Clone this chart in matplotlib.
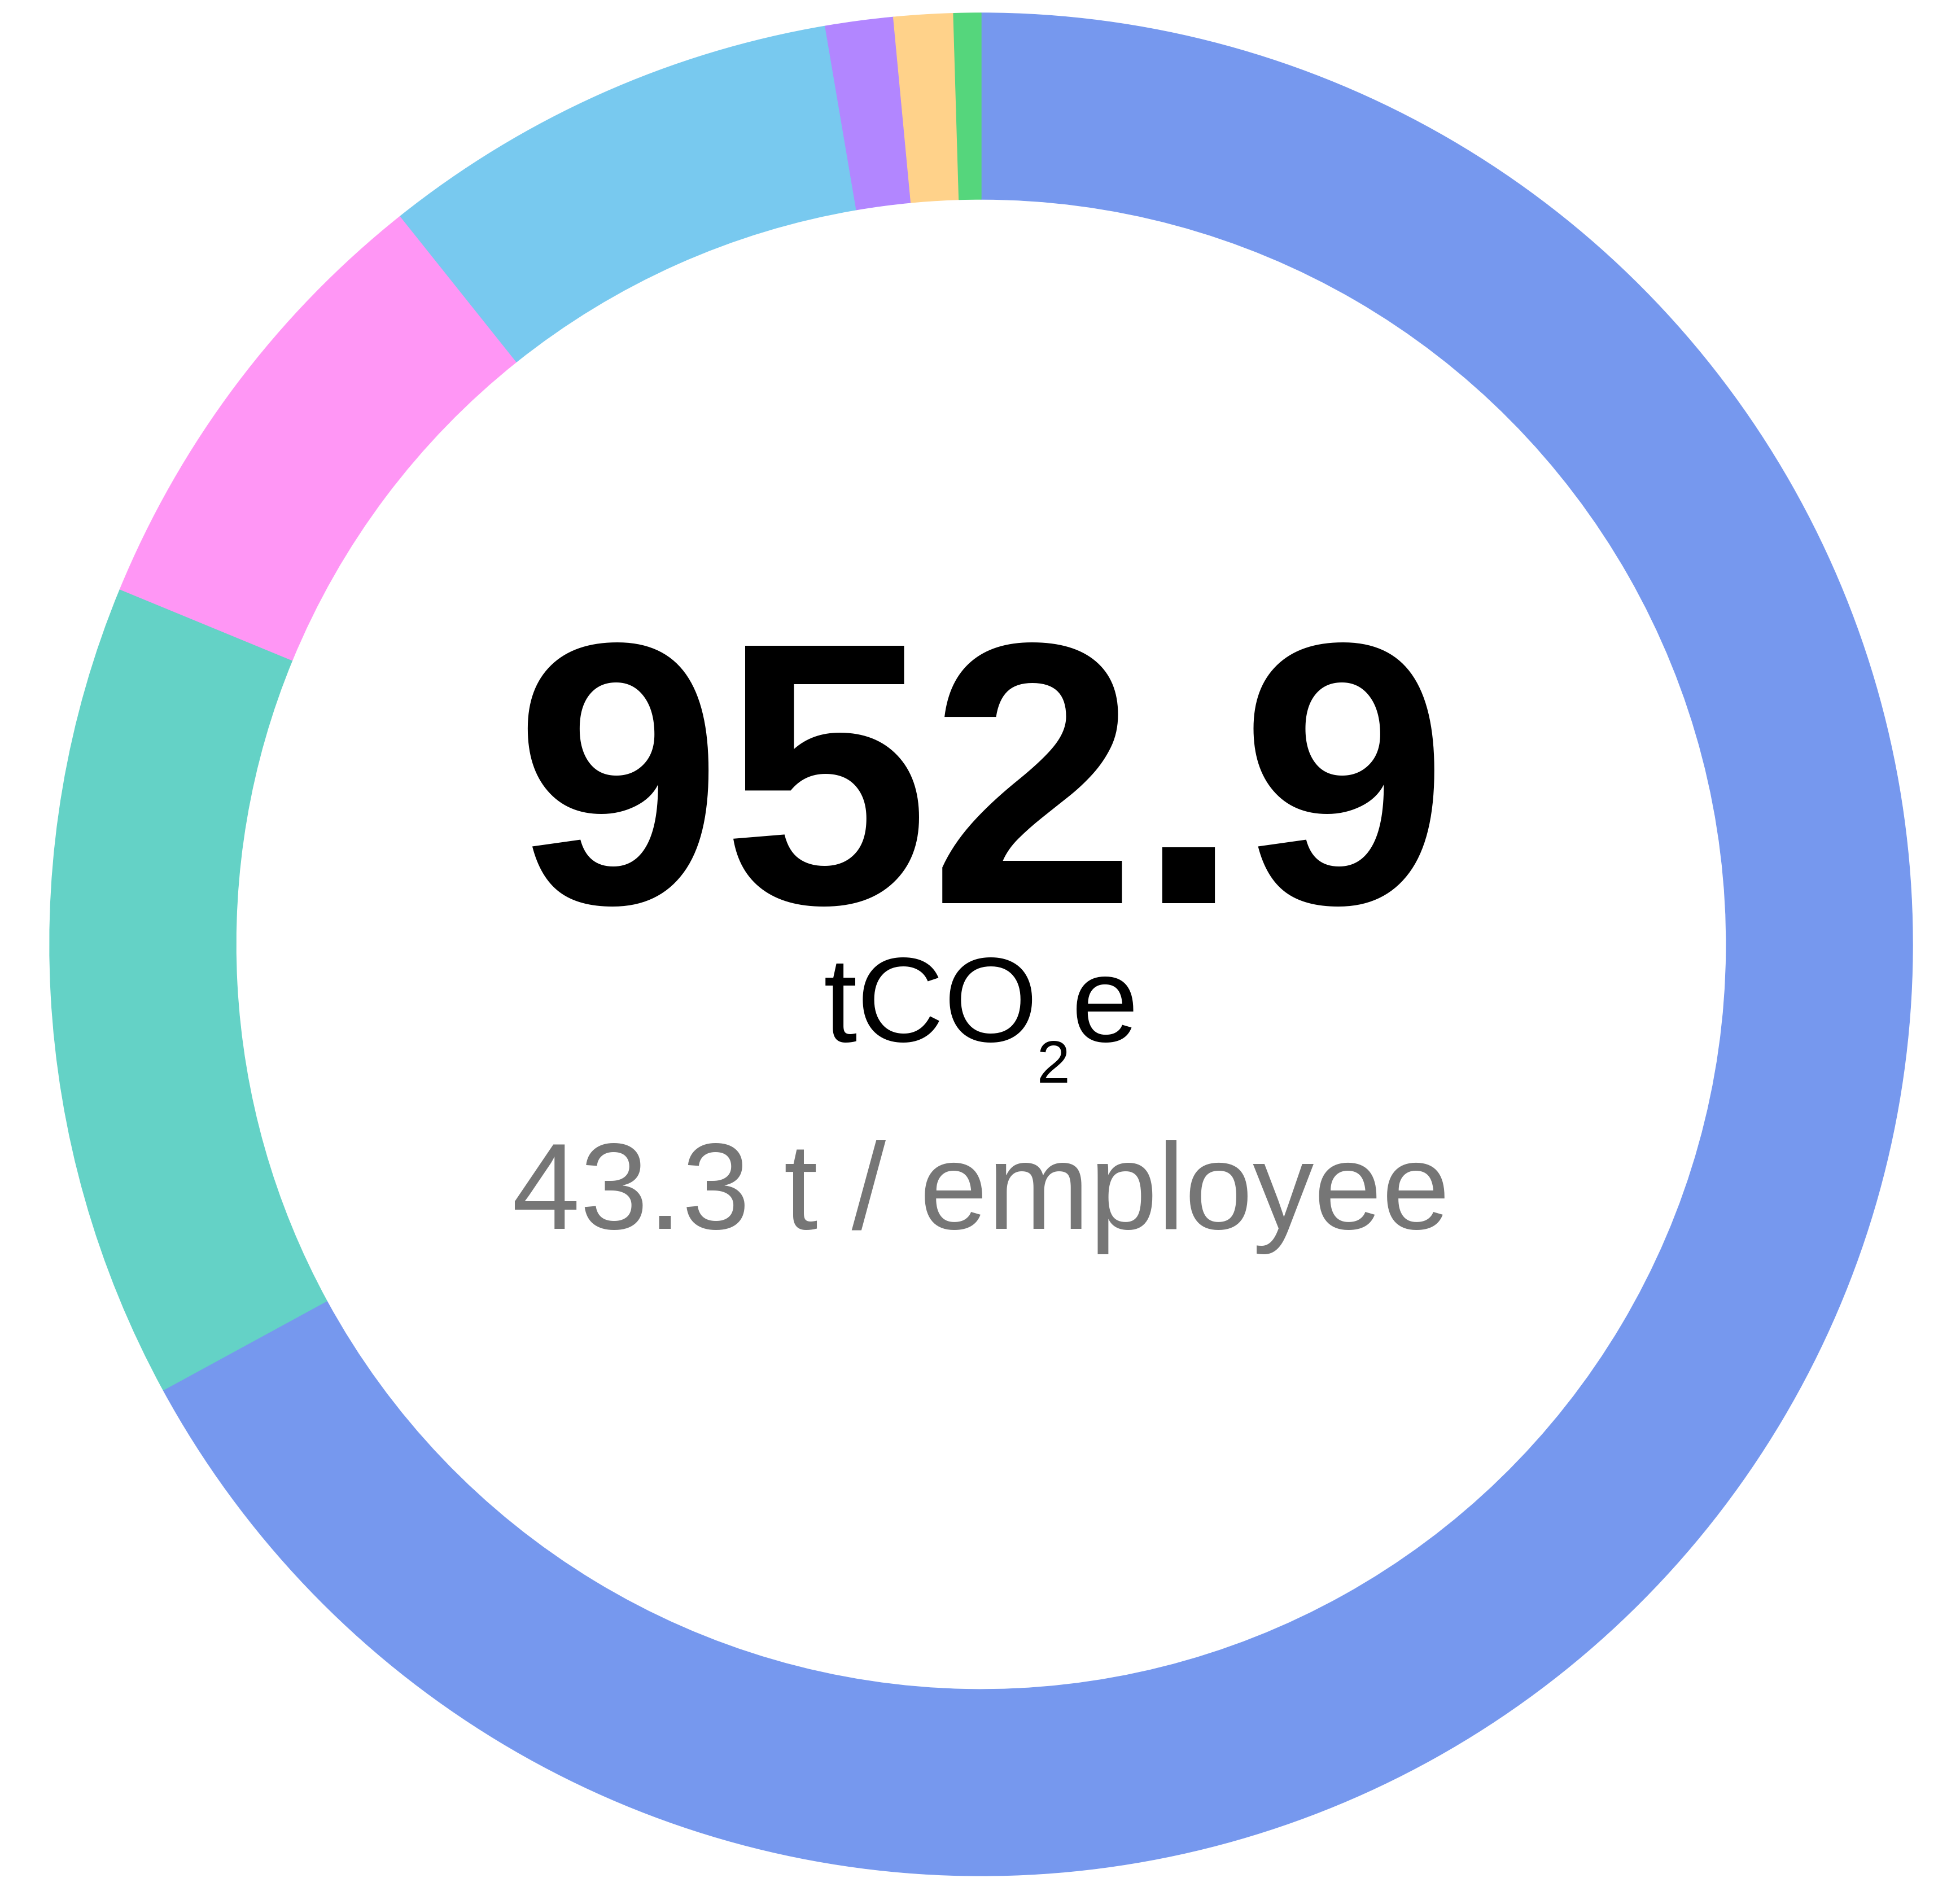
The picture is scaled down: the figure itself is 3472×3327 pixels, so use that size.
import matplotlib.pyplot as plt

# 排放构成（tCO2e），顺时针从12点方向开始
categories = ["Cat A", "Cat B", "Cat C", "Cat D", "Cat E", "Cat F", "Cat G"]
values = [639.0, 135.0, 76.8, 76.6, 11.2, 9.8, 4.5]
colors = ["#7698EE", "#64D2C6", "#FF96F5", "#78C9EF", "#B286FF", "#FFD28A", "#55D67C"]

total_label = "952.9"
unit_parts = ["tCO", "2", "e"]
per_employee_label = "43.3 t / employee"

plt.rcParams['font.family'] = ['Liberation Sans', 'DejaVu Sans']

W, H = 3472, 3327
cx, cy = 1738, 1673
R = 1650

fig = plt.figure(figsize=(W / 100, H / 100), dpi=100)
ax = fig.add_axes([0, 0, 1, 1])
ax.pie(values, colors=colors, startangle=90, counterclock=False, radius=R,
       wedgeprops=dict(width=330, linewidth=1.0))
for w, c in zip(ax.patches, colors):
    w.set_edgecolor(c)

# 数据单位 = 像素，圆心在 (0, 0)
ax.set_xlim(-cx, W - cx)
ax.set_ylim(-(H - cy), cy)
ax.set_aspect('auto')
ax.axis('off')

ax.text(0, cy - 1600, total_label, ha='center', va='baseline',
        fontsize=476, fontweight='bold', color='black')

# tCO₂e：分段绘制，下标更低
renderer = fig.canvas.get_renderer()
base_y = cy - 1845
sizes = [154, 76, 154]
dys = [0, -73, 0]
gaps = [-3, 3, 0]
pieces = []
x = 0
for part, fs, dy, g in zip(unit_parts, sizes, dys, gaps):
    t = ax.text(x, base_y + dy, part, ha='left', va='baseline',
                fontsize=fs, color='black')
    bb = t.get_window_extent(renderer)
    pieces.append(t)
    x += bb.width + g
for t in pieces:
    px, py = t.get_position()
    t.set_position((px - x / 2, py))

ax.text(0, cy - 2177, per_employee_label, ha='center', va='baseline',
        fontsize=156, color='#767676')

fig.savefig('out.png', dpi=100, facecolor='white')
